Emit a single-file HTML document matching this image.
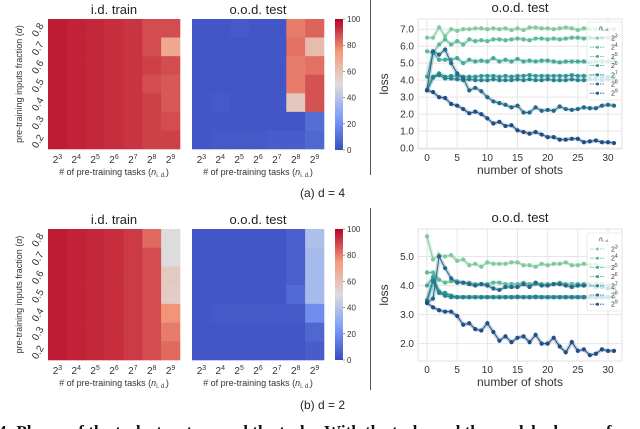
<!DOCTYPE html>
<html><head><meta charset="utf-8"><style>
body{margin:0;background:#fff;width:640px;height:429px;overflow:hidden}
svg{display:block;font-family:"Liberation Sans",sans-serif}
</style></head><body>
<svg id="s" width="640" height="429" viewBox="0 0 640 429" xmlns="http://www.w3.org/2000/svg"></svg>
<script>
const NS="http://www.w3.org/2000/svg";
const svg=document.getElementById('s');
function mk(tag,attrs,parent,text){const e=document.createElementNS(NS,tag);for(const k in attrs)e.setAttribute(k,attrs[k]);if(text!==undefined)e.textContent=text;(parent||svg).appendChild(e);return e;}

// ---- data ----
const colLabels=['3','4','5','6','7','8','9'];
const rowLabels=['0.8','0.7','0.6','0.5','0.4','0.3','0.2'];
const idTrainA=[[96,95,94,93,92,88,88],[96,95,94,93,92,88,70],[96,95,94,93,92,90,88],[96,95,94,93,92,88,86],[96,95,94,93,92,90,86],[96,95,94,93,92,90,88],[96,95,94,93,92,90,90]];
const oodTestA=[[3,3,4,3,3,80,84],[3,3,3,3,3,82,62],[3,3,3,3,3,80,82],[3,3,3,3,3,80,87],[3,4,3,3,3,58,87],[3,3,3,3,3,3,10],[3,4,4,4,5,5,8]];
const idTrainB=[[96,95,94,93,91,83,50],[96,95,94,93,91,88,50],[96,95,94,93,91,88,57],[96,95,94,93,91,88,56],[96,95,94,93,91,88,76],[96,95,94,93,91,88,80],[96,95,94,93,91,88,83]];
const oodTestB=[[3,3,3,3,3,6,38],[3,3,3,3,3,6,36],[3,3,3,3,3,6,36],[3,3,3,3,3,9,36],[3,4,4,4,4,4,20],[3,3,3,3,3,3,8],[3,3,3,3,3,3,5]];
const cbTicks=[0,20,40,60,80,100];
const seriesNames=['3','4','5','6','7','8','9'];
const lossA=[
[6.5,6.5,7.1,6.6,7.0,6.9,7.0,7.0,7.05,7.05,7.0,7.05,7.0,7.05,6.95,7.05,6.95,7.1,7.1,7.05,7.05,7.0,7.05,7.1,7.05,6.95,7.05,7.0,7.0,7.0,7.0,7.0],
[5.7,5.6,6.1,6.4,6.1,6.3,6.1,6.4,6.3,6.35,6.3,6.4,6.4,6.35,6.4,6.45,6.4,6.35,6.45,6.45,6.4,6.45,6.4,6.45,6.5,6.5,6.45,6.5,6.45,6.5,6.5,6.45],
[4.2,5.6,5.2,5.2,5.2,5.3,5.0,5.2,5.1,5.15,5.1,5.3,5.1,5.2,5.1,5.25,5.1,5.15,5.1,5.15,5.15,5.1,5.05,5.1,5.1,5.1,5.1,5.05,5.1,5.1,5.1,5.15],
[3.4,4.2,4.4,4.2,4.25,4.25,4.2,4.2,4.2,4.25,4.25,4.25,4.2,4.25,4.2,4.25,4.25,4.3,4.25,4.25,4.25,4.25,4.25,4.25,4.3,4.25,4.25,4.25,4.25,4.2,4.2,4.2],
[3.4,4.15,4.3,4.1,4.1,4.05,4.0,4.05,4.0,4.0,4.0,4.05,4.0,4.0,4.0,4.05,4.0,4.05,4.0,4.0,4.05,4.0,4.0,4.0,4.05,4.0,4.0,4.05,4.05,4.0,4.05,4.05],
[3.4,5.7,5.5,5.8,5.0,4.4,4.1,3.4,3.55,3.35,3.0,2.75,2.65,2.55,2.4,2.5,2.1,2.1,2.4,2.2,2.25,2.2,2.45,2.3,2.25,2.3,2.4,2.35,2.35,2.5,2.55,2.5],
[3.4,3.3,3.0,2.95,2.6,2.5,2.3,2.05,2.15,2.0,1.75,1.45,1.55,1.3,1.35,1.05,0.95,0.85,0.95,0.8,0.65,0.65,0.5,0.5,0.55,0.55,0.35,0.4,0.45,0.35,0.35,0.3]];
const lossB=[
[5.7,4.9,5.05,5.0,5.05,4.85,4.9,4.7,4.75,4.65,4.8,4.75,4.75,4.75,4.8,4.8,4.7,4.7,4.65,4.75,4.7,4.75,4.75,4.8,4.7,4.7,4.75,4.7,4.7,4.65,4.65,4.65],
[4.45,4.45,4.2,4.1,4.15,4.15,4.1,4.1,4.05,4.05,4.05,4.1,4.1,4.05,4.05,4.05,4.1,4.05,4.05,4.05,4.05,4.05,4.1,4.05,4.05,4.05,4.05,4.05,4.05,4.05,4.0,4.0],
[4.0,4.3,3.8,3.7,3.65,3.6,3.6,3.6,3.6,3.6,3.6,3.6,3.6,3.6,3.6,3.6,3.6,3.6,3.6,3.6,3.6,3.6,3.6,3.6,3.6,3.6,3.6,3.6,3.6,3.6,3.6,3.6],
[3.5,4.2,3.75,3.75,3.65,3.6,3.6,3.6,3.6,3.6,3.6,3.6,3.6,3.6,3.6,3.62,3.6,3.6,3.62,3.6,3.6,3.6,3.6,3.6,3.6,3.6,3.6,3.6,3.6,3.6,3.6,3.6],
[3.45,4.15,3.75,3.65,3.6,3.6,3.6,3.6,3.6,3.6,3.6,3.6,3.6,3.6,3.6,3.6,3.6,3.6,3.6,3.6,3.6,3.6,3.6,3.6,3.6,3.6,3.6,3.6,3.6,3.6,3.6,3.6],
[3.4,3.55,5.0,4.6,4.25,4.1,4.1,4.05,4.0,4.05,4.0,3.9,3.85,3.95,3.95,3.95,4.05,3.95,4.1,4.0,4.0,4.05,4.05,4.0,3.95,4.0,4.0,4.0,3.95,3.95,3.9,3.9],
[3.4,3.25,3.15,3.1,3.1,2.95,2.65,2.7,2.5,2.45,2.7,2.4,2.1,2.25,2.05,2.2,2.25,2.05,2.3,2.0,2.0,2.2,1.9,1.7,2.05,1.75,1.8,1.6,1.65,1.8,1.75,1.75]];
const xTicks=[0,5,10,15,20,25,30];
const yTicksA=[0,1,2,3,4,5,6,7];
const yTicksB=[2,3,4,5];
const palette=['#80c99f','#5cb99a','#42a897','#2f9594','#25818f','#22688a','#1f4e86'];

// ---- colormap ----
const stops=[[0,[59,76,192]],[0.25,[124,159,249]],[0.5,[221,220,220]],[0.75,[244,154,123]],[1,[180,4,38]]];
function cw(v){const t=Math.max(0,Math.min(1,v/100));for(let i=1;i<stops.length;i++){if(t<=stops[i][0]){const a=stops[i-1],b=stops[i];const f=(t-a[0])/(b[0]-a[0]);const c=a[1].map((x,j)=>Math.round(x+(b[1][j]-x)*f));return `rgb(${c})`;}}return 'rgb(180,4,38)';}

function heatmap(name,data,x0,y0,w,h,title,showY){
  const g=mk('g',{},svg);
  
  
  const t=mk('text',{x:x0+w/2,y:y0-5,'text-anchor':'middle','font-size':13,fill:'#222'},g,title);
  
  const cw_=w/colLabels.length,ch=h/rowLabels.length;
  data.forEach((row,r)=>row.forEach((v,c)=>{
    const rc=mk('rect',{x:x0+c*cw_,y:y0+r*ch,width:cw_+0.3,height:ch+0.3,fill:cw(v)},g);
    
    
  }));
  colLabels.forEach((l,c)=>{
    const tx=mk('text',{x:x0+(c+0.5)*cw_,y:y0+h+14,'text-anchor':'middle','font-size':10,fill:'#333'},g);
    
    tx.appendChild(document.createTextNode('2'));
    mk('tspan',{dy:-4,'font-size':7},tx,l);
  });
  const xl=mk('text',{x:x0+w/2,y:y0+h+26,'text-anchor':'middle','font-size':9,fill:'#333'},g);
  
  xl.appendChild(document.createTextNode('# of pre-training tasks ('));
  mk('tspan',{'font-style':'italic'},xl,'n');
  mk('tspan',{'font-size':6,dy:2},xl,'i. d.');
  mk('tspan',{dy:-2},xl,')');
  if(showY){
    rowLabels.forEach((l,r)=>{
      const cy=y0+(r+0.5)*ch;
      const tx=mk('text',{x:x0-4,y:cy+3,'text-anchor':'end','font-size':10,fill:'#333',transform:`rotate(-60 ${x0-9} ${cy})`},g,l);
      
    });
    const yl=mk('text',{x:0,y:0,'text-anchor':'middle','font-size':9,fill:'#333',transform:`translate(${x0-26},${y0+h/2}) rotate(-90)`},g,'pre-training inputs fraction (');
    mk('tspan',{'font-style':'italic'},yl,'α');
    yl.appendChild(document.createTextNode(')'));
    
  }
}
function colorbar(name,x0,y0,w,h){
  const g=mk('g',{},svg);
  
  const id='grad'+name;
  const d=mk('defs',{},g);const lg=mk('linearGradient',{id:id,x1:0,y1:1,x2:0,y2:0},d);
  stops.forEach(s=>mk('stop',{offset:s[0],'stop-color':`rgb(${s[1]})`},lg));
  mk('rect',{x:x0,y:y0,width:w,height:h,fill:`url(#${id})`},g);
  cbTicks.forEach(v=>{const y=y0+h-v/100*h;
    mk('line',{x1:x0+w,x2:x0+w+2,y1:y,y2:y,stroke:'#555','stroke-width':0.6},g);
    const tx=mk('text',{x:x0+w+4,y:y+3,'font-size':8,fill:'#333'},g,String(v));
    });
}
function lineChart(name,series,yTicks,ymin,ymax,x0,y0,w,h,lx,ly){
  const g=mk('g',{},svg);
  
  const X=v=>x0+9+v*( (w-23)/30 );
  const Y=v=>y0+h-((v-ymin)/(ymax-ymin))*h;
  mk('rect',{x:x0,y:y0,width:w,height:h,fill:'#fff',stroke:'#e0e0e0','stroke-width':1},g);
  xTicks.forEach(v=>{mk('line',{x1:X(v),x2:X(v),y1:y0,y2:y0+h,stroke:'#e6e6e6','stroke-width':1},g);
    const tx=mk('text',{x:X(v),y:y0+h+12,'text-anchor':'middle','font-size':10,fill:'#333'},g,String(v));
    });
  yTicks.forEach(v=>{mk('line',{x1:x0,x2:x0+w,y1:Y(v),y2:Y(v),stroke:'#e6e6e6','stroke-width':1},g);
    const tx=mk('text',{x:x0-4,y:Y(v)+3.5,'text-anchor':'end','font-size':10,fill:'#333'},g,v.toFixed(1));
    });
  const t=mk('text',{x:x0+w/2,y:y0-7,'text-anchor':'middle','font-size':13,fill:'#222'},g,'o.o.d. test');
  
  const xl=mk('text',{x:x0+w/2,y:y0+h+25,'text-anchor':'middle','font-size':12,fill:'#333'},g,'number of shots');
  
  const yl=mk('text',{x:0,y:0,'text-anchor':'middle','font-size':12,fill:'#333',transform:`translate(${x0-30},${y0+h/2}) rotate(-90)`},g,'loss');
  
  series.forEach((s,i)=>{
    const pts=s.map((v,k)=>`${X(k)},${Y(v)}`).join(' ');
    const band=mk('polyline',{points:pts,fill:'none',stroke:palette[i],'stroke-opacity':0.25,'stroke-width':4},g);
    
    const pl=mk('polyline',{points:pts,fill:'none',stroke:palette[i],'stroke-width':1},g);
    
    s.forEach((v,k)=>{const c=mk('circle',{cx:X(k),cy:Y(v),r:2.1,fill:palette[i]},g);
      });
  });
  const lg=mk('g',{},g);
  
  mk('rect',{x:lx,y:ly,width:35,height:78,fill:'#fff','fill-opacity':0.8,stroke:'#ddd','stroke-width':0.6,rx:2},lg);
  const lt=mk('text',{x:lx+17,y:ly+8,'text-anchor':'middle','font-size':6,fill:'#333'},lg);
  mk('tspan',{'font-style':'italic'},lt,'n');mk('tspan',{'font-size':4,dy:1},lt,'i. d.');
  seriesNames.forEach((n,i)=>{const yy=ly+16+i*9.2;
    const e=mk('g',{},lg);
    
    mk('line',{x1:lx+3,x2:lx+18,y1:yy,y2:yy,stroke:palette[i],'stroke-width':0.8,'stroke-dasharray':'1.5,1'},e);
    mk('circle',{cx:lx+10.5,cy:yy,r:1.5,fill:palette[i]},e);
    const tx=mk('text',{x:lx+24,y:yy+2.5,'font-size':7,fill:'#333'},e,'2');
    mk('tspan',{dy:-3,'font-size':5},tx,n);
  });
}

heatmap('id-train-heatmap-a',idTrainA,48,19,132,130,'i.d. train',true);
heatmap('ood-test-heatmap-a',oodTestA,192,19,132,130,'o.o.d. test',false);
colorbar('colorbar-a',335,19,8,131);
heatmap('id-train-heatmap-b',idTrainB,48,229,132,131,'i.d. train',true);
heatmap('ood-test-heatmap-b',oodTestB,192,229,132,131,'o.o.d. test',false);
colorbar('colorbar-b',335,229,8,131);
lineChart('loss-chart-a',lossA,yTicksA,-0.05,7.6,418,19,204,130,587,22);
lineChart('loss-chart-b',lossB,yTicksB,1.4,5.95,418,229,204,132,587,233);

mk('line',{x1:370.5,x2:370.5,y1:0,y2:175,stroke:'#555','stroke-width':1});
mk('line',{x1:370.5,x2:370.5,y1:208,y2:390,stroke:'#555','stroke-width':1});
const ca=mk('text',{x:300,y:197,'font-size':12,fill:'#222'},svg,'(a)  d = 4');

const cb=mk('text',{x:300,y:409,'font-size':12,fill:'#222'},svg,'(b)  d = 2');

const cap=mk('text',{x:-2,y:437,'font-size':17,'font-family':'Liberation Serif, serif',fill:'#111','font-weight':'bold'},svg,'4: Phases of the task structure and the tasks. With the tasks and the models shown of');

</script>
</body></html>
